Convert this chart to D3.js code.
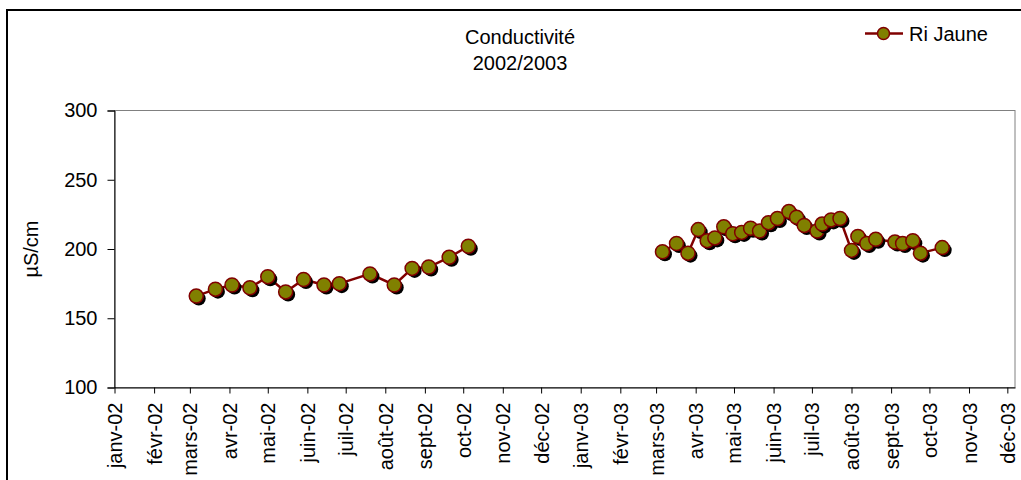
<!DOCTYPE html>
<html>
<head>
<meta charset="utf-8">
<script src="https://cdn.jsdelivr.net/npm/d3@7/dist/d3.min.js"></script>
<style>
  body { margin: 0; background: #fff; }
  svg text { font-family: "Liberation Sans", Arial, sans-serif; fill: #000; }
</style>
</head>
<body>
<svg id="chart" width="1021" height="480"></svg>
<script>
// data
const dates2002 = ['2002-03-06', '2002-03-21', '2002-04-03', '2002-04-17', '2002-05-01', '2002-05-15', '2002-05-29',
  '2002-06-14', '2002-06-26', '2002-07-20', '2002-08-08', '2002-08-22', '2002-09-04', '2002-09-20', '2002-10-05']
const values2002 = [166, 171, 174, 172, 180, 169, 178, 174, 175, 182, 174, 186, 187, 194, 202]

const dates2003 = ['2003-03-06', '2003-03-17', '2003-03-26', '2003-04-03', '2003-04-10', '2003-04-16', '2003-04-23',
  '2003-04-30', '2003-05-07', '2003-05-14', '2003-05-21', '2003-05-28', '2003-06-04', '2003-06-13', '2003-06-19',
  '2003-06-25', '2003-07-05', '2003-07-09', '2003-07-16', '2003-07-23', '2003-08-01', '2003-08-06', '2003-08-13',
  '2003-08-20', '2003-09-04', '2003-09-10', '2003-09-18', '2003-09-24', '2003-10-11']
const values2003 = [198, 204, 197, 214, 206, 208, 216, 211, 212, 215, 213, 219, 222, 227, 223,
  217, 213, 218, 221, 222, 199, 209, 204, 207, 205, 204, 206, 197, 201]

const monthNames = ['janv', 'févr', 'mars', 'avr', 'mai', 'juin', 'juil', 'août', 'sept', 'oct', 'nov', 'déc']
const yTicks = [100, 150, 200, 250, 300]
const titleLines = ['Conductivité', '2002/2003']
const seriesName = 'Ri Jaune'
const yLabel = 'µS/cm'

const parse = d3.timeParse('%Y-%m-%d')

const svg = d3.select('#chart')
const plotL = 114.5, plotR = 1015, plotT = 110.5, plotB = 387.5

// outer frame
svg.append('rect').attr('x', 7).attr('y', 10).attr('width', 1040).attr('height', 500)
  .attr('fill', '#fff').attr('stroke', '#000').attr('stroke-width', 2)

// plot area border
svg.append('rect').attr('x', plotL).attr('y', plotT).attr('width', plotR - plotL).attr('height', plotB - plotT)
  .attr('fill', '#fff').attr('stroke', '#808080').attr('stroke-width', 1)

const x = d3.scaleTime()
  .domain([parse('2002-01-01'), parse('2003-12-07')])
  .range([plotL, plotR])

const y = d3.scaleLinear().domain([100, 300]).range([plotB, plotT])

// y axis
const yAxis = svg.append('g').attr('transform', `translate(${plotL},0)`)
  .call(d3.axisLeft(y).tickValues(yTicks).tickSize(7).tickPadding(10))
yAxis.select('.domain').attr('stroke', '#000')
yAxis.selectAll('text').style('font-size', '20px')

// x axis, one tick per month
const fmt = d => monthNames[d.getMonth()] + '-' + d3.timeFormat('%y')(d)
const xAxis = svg.append('g').attr('transform', `translate(0,${plotB})`)
  .call(d3.axisBottom(x).ticks(d3.timeMonth.every(1)).tickFormat(fmt).tickSize(6).tickSizeOuter(0))
xAxis.select('.domain').attr('stroke', '#000')
xAxis.selectAll('text')
  .style('font-size', '20px')
  .attr('text-anchor', 'end')
  .attr('transform', 'rotate(-90)')
  .attr('x', -15).attr('y', 0).attr('dy', '0.35em')

// y label
svg.append('text')
  .attr('transform', `translate(31,${(plotT + plotB) / 2}) rotate(-90)`)
  .attr('text-anchor', 'middle').attr('dy', '0.35em')
  .style('font-size', '20px')
  .text(yLabel)

// title
svg.selectAll('.title').data(titleLines).enter().append('text')
  .attr('class', 'title')
  .attr('x', 520).attr('y', (d, i) => 44 + i * 26)
  .attr('text-anchor', 'middle')
  .style('font-size', '20px')
  .text(d => d)

// series, one piece per year (gap between them)
const line = d3.line().x(d => x(d.date)).y(d => y(d.value))
const segments = [
  dates2002.map((d, i) => ({ date: parse(d), value: values2002[i] })),
  dates2003.map((d, i) => ({ date: parse(d), value: values2003[i] }))
]

segments.forEach(seg => {
  svg.append('path').datum(seg).attr('d', line)
    .attr('fill', 'none').attr('stroke', '#800000').attr('stroke-width', 2.5)
})

segments.forEach(seg => {
  const pts = svg.append('g').selectAll('g').data(seg).enter().append('g')
  pts.append('circle')
    .attr('cx', d => x(d.date) + 2.5).attr('cy', d => y(d.value) + 2.5).attr('r', 7)
    .attr('fill', '#000')
  pts.append('circle')
    .attr('cx', d => x(d.date)).attr('cy', d => y(d.value)).attr('r', 7)
    .attr('fill', '#808000').attr('stroke', '#800000').attr('stroke-width', 1.5)
})

// legend
const lg = svg.append('g').attr('transform', 'translate(865,33.5)')
lg.append('line').attr('x1', 0).attr('x2', 38).attr('y1', 0).attr('y2', 0)
  .attr('stroke', '#800000').attr('stroke-width', 2.5)
lg.append('circle').attr('cx', 18.5).attr('cy', 0).attr('r', 6)
  .attr('fill', '#808000').attr('stroke', '#800000').attr('stroke-width', 1.5)
lg.append('text').attr('x', 44).attr('y', 7).style('font-size', '20px').text(seriesName)
</script>
</body>
</html>
